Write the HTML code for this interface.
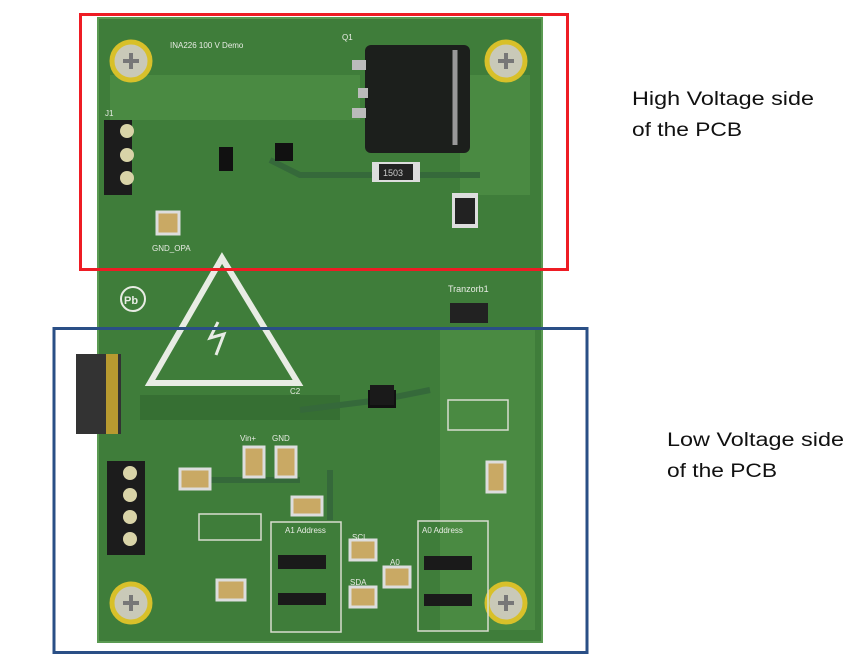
<!DOCTYPE html>
<html><head><meta charset="utf-8"><style>
html,body{margin:0;padding:0;background:#fff;}
svg{display:block;}
</style></head><body>
<svg width="859" height="669" viewBox="0 0 859 669" xmlns="http://www.w3.org/2000/svg" font-family="Liberation Sans, sans-serif">
<rect width="859" height="669" fill="#fff"/>
<!-- board -->
<rect x="98" y="18" width="444" height="624" fill="#3f7d3a"/>
<rect x="98" y="18" width="444" height="624" fill="none" stroke="#5a9a52" stroke-width="2"/>
<!-- copper planes -->
<rect x="110" y="75" width="250" height="45" fill="#4a8a42"/>
<rect x="460" y="75" width="70" height="120" fill="#4a8a42"/>
<rect x="140" y="395" width="200" height="25" fill="#366f33"/>
<rect x="440" y="330" width="95" height="300" fill="#4a8a42"/>
<path d="M270 160 L300 175 L480 175 M300 410 L380 400 L430 390 M330 470 L330 520 M180 480 L300 480" stroke="#35693a" stroke-width="6" fill="none"/>
<!-- screws -->
<g fill="#c9c9b8" stroke="#d8c02a" stroke-width="5">
<circle cx="131" cy="61" r="19"/><circle cx="506" cy="61" r="19"/>
<circle cx="131" cy="603" r="19"/><circle cx="506" cy="603" r="19"/>
</g>
<g stroke="#777" stroke-width="4">
<path d="M123 61h16M131 53v16M498 61h16M506 53v16M123 603h16M131 595v16M498 603h16M506 595v16"/>
</g>
<!-- Q1 -->
<rect x="365" y="45" width="105" height="108" rx="6" fill="#1c1f1c"/>
<rect x="352" y="60" width="14" height="10" fill="#bbb"/><rect x="352" y="108" width="14" height="10" fill="#bbb"/><rect x="358" y="88" width="10" height="10" fill="#bbb"/>
<path d="M455 50 v95" stroke="#999" stroke-width="5"/>
<!-- J1 terminal -->
<rect x="104" y="120" width="28" height="75" fill="#1c1c1c"/>
<g fill="#d9d4a8"><circle cx="127" cy="131" r="7"/><circle cx="127" cy="155" r="7"/><circle cx="127" cy="178" r="7"/></g>
<!-- J5 terminal low -->
<rect x="107" y="461" width="38" height="94" fill="#1c1c1c"/>
<g fill="#d9d4a8"><circle cx="130" cy="473" r="7"/><circle cx="130" cy="495" r="7"/><circle cx="130" cy="517" r="7"/><circle cx="130" cy="539" r="7"/></g>
<!-- header J7 -->
<rect x="76" y="354" width="45" height="80" fill="#333"/>
<rect x="106" y="354" width="12" height="80" fill="#b89a30"/>
<!-- warning triangle -->
<polygon points="222,258 150,383 298,383" fill="none" stroke="#e8ece4" stroke-width="6"/>
<path d="M218 322 L210 338 L224 334 L216 355" stroke="#e8ece4" stroke-width="3" fill="none"/>
<circle cx="133" cy="299" r="12" fill="none" stroke="#e8ece4" stroke-width="2"/>
<text x="124" y="304" font-size="11" fill="#e8ece4" font-weight="bold">Pb</text>
<!-- resistors -->
<rect x="372" y="162" width="48" height="20" fill="#ddd"/><rect x="379" y="164" width="34" height="16" fill="#222"/><text x="383" y="176" font-size="9" fill="#ccc">1503</text>
<rect x="452" y="193" width="26" height="35" fill="#ddd"/><rect x="455" y="198" width="20" height="26" fill="#222"/>
<rect x="450" y="303" width="38" height="20" fill="#222"/>
<rect x="368" y="390" width="28" height="18" fill="#111"/>
<rect x="275" y="143" width="18" height="18" fill="#111"/>
<rect x="219" y="147" width="14" height="24" fill="#111"/>
<!-- pads -->
<g fill="#c9a964" stroke="#ddd" stroke-width="3">
<rect x="157" y="212" width="22" height="22"/>
<rect x="180" y="469" width="30" height="20"/>
<rect x="244" y="447" width="20" height="30"/><rect x="276" y="447" width="20" height="30"/>
<rect x="292" y="497" width="30" height="18"/>
<rect x="487" y="462" width="18" height="30"/>
<rect x="350" y="540" width="26" height="20"/><rect x="350" y="587" width="26" height="20"/>
<rect x="384" y="567" width="26" height="20"/>
<rect x="217" y="580" width="28" height="20"/>
</g>
<!-- boxes -->
<g fill="none" stroke="#d8ddd0" stroke-width="1.5">
<rect x="199" y="514" width="62" height="26"/>
<rect x="271" y="522" width="70" height="110"/>
<rect x="418" y="521" width="70" height="110"/>
<rect x="448" y="400" width="60" height="30"/>
</g>
<g fill="#1a1a1a">
<rect x="278" y="555" width="48" height="14"/><rect x="278" y="593" width="48" height="12"/>
<rect x="424" y="556" width="48" height="14"/><rect x="424" y="594" width="48" height="12"/>
<rect x="370" y="385" width="24" height="20"/>
</g>
<g font-size="8" fill="#e8ece4">
<text x="170" y="48">INA226 100 V Demo</text>
<text x="342" y="40">Q1</text>
<text x="105" y="116">J1</text>
<text x="152" y="251">GND_OPA</text>
<text x="448" y="292" font-size="9">Tranzorb1</text>
<text x="352" y="540">SCL</text><text x="350" y="585">SDA</text><text x="390" y="565">A0</text>
<text x="272" y="441">GND</text><text x="240" y="441">Vin+</text><text x="290" y="394">C2</text>
<text x="285" y="533">A1 Address</text><text x="422" y="533">A0 Address</text>
</g>
<!-- annotation boxes -->
<rect x="80.5" y="14.5" width="487" height="255" fill="none" stroke="#ee1c24" stroke-width="3"/>
<rect x="54" y="328.5" width="533" height="324" fill="none" stroke="#2a4f86" stroke-width="3"/>
<g font-size="19" fill="#111">
<text x="632" y="105" textLength="182" lengthAdjust="spacingAndGlyphs">High Voltage side</text>
<text x="632" y="136" textLength="110" lengthAdjust="spacingAndGlyphs">of the PCB</text>
<text x="667" y="446" textLength="177" lengthAdjust="spacingAndGlyphs">Low Voltage side</text>
<text x="667" y="477" textLength="110" lengthAdjust="spacingAndGlyphs">of the PCB</text>
</g>
</svg>
</body></html>
